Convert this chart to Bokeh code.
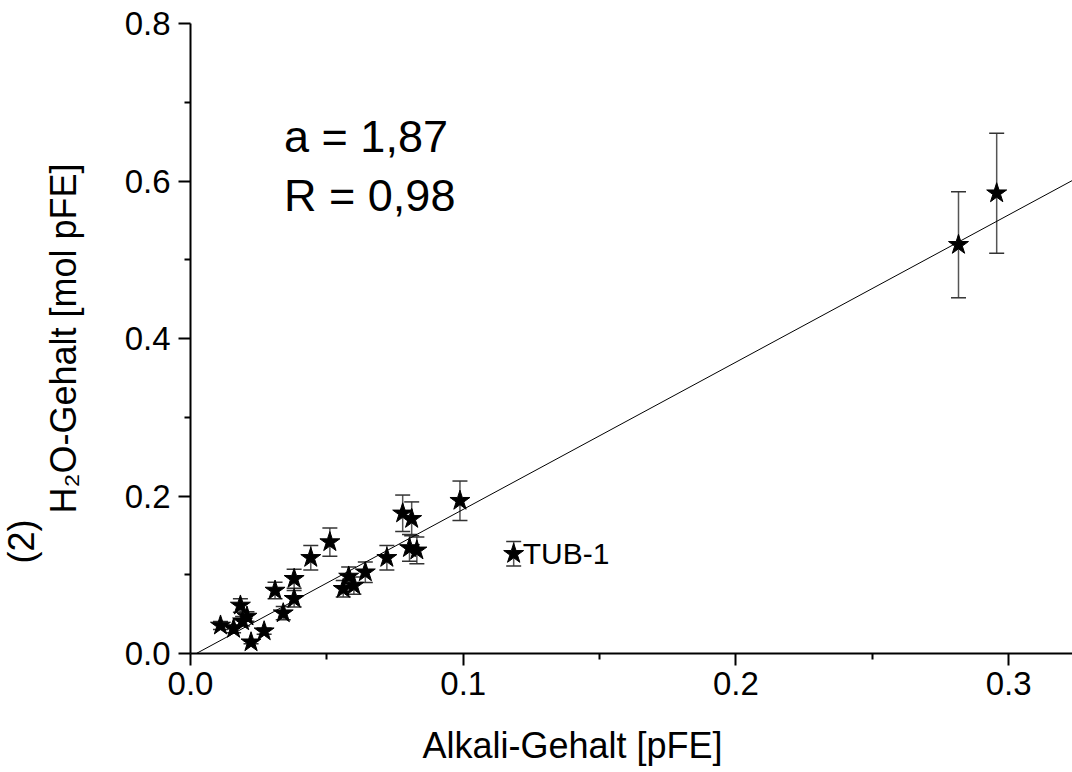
from bokeh.plotting import figure
from bokeh.models import (ColumnDataSource, Whisker, TeeHead, Label, Range1d,
                          FixedTicker, PrintfTickFormatter, Title)
from bokeh.embed import file_html
from bokeh.resources import INLINE

# ---------------- data ----------------
alkali = [0.0110, 0.0158, 0.0183, 0.0191, 0.0207, 0.0222, 0.0270, 0.0310,
          0.0340, 0.0380, 0.0380, 0.0441, 0.0511, 0.0560, 0.0580, 0.0599,
          0.0641, 0.0720, 0.0778, 0.0811, 0.0803, 0.0830, 0.0988, 0.1185,
          0.2816, 0.2956]
h2o = [0.0356, 0.0314, 0.0610, 0.0410, 0.0470, 0.0143, 0.0283, 0.0800,
       0.0512, 0.0949, 0.0695, 0.1215, 0.1415, 0.0822, 0.0978, 0.0863,
       0.1032, 0.1215, 0.1780, 0.1710, 0.1340, 0.1310, 0.1940, 0.1266,
       0.5190, 0.5845]
h2o_err = [0.005, 0.005, 0.0085, 0.006, 0.006, 0.002, 0.004, 0.0105,
           0.0085, 0.012, 0.0105, 0.0155, 0.018, 0.0105, 0.012, 0.011,
           0.013, 0.0155, 0.0232, 0.0215, 0.017, 0.017, 0.025, 0.0155,
           0.0673, 0.0762]
point_label = "TUB-1"
point_label_index = 23

fit_slope = 1.87
fit_intercept = -0.004

x_major = [0.0, 0.1, 0.2, 0.3]
x_minor = [0.05, 0.15, 0.25]
y_major = [0.0, 0.2, 0.4, 0.6, 0.8]
y_minor = [0.1, 0.3, 0.5, 0.7]
x_end = 0.3234
y_end = 0.8

annot_lines = ["a = 1,87", "R = 0,98"]
x_title = "Alkali-Gehalt [pFE]"
y_title = "H\u2082O-Gehalt [mol pFE]"
y_title_prefix = "(2)"

FONT = "Liberation Sans"

# ---------------- figure ----------------
p = figure(width=1072, height=772, x_range=Range1d(0, x_end), y_range=Range1d(0, y_end),
           output_backend="svg", toolbar_location=None,
           min_border_left=186, min_border_right=0, min_border_top=23, min_border_bottom=119)
p.outline_line_color = None
p.grid.visible = False
p.background_fill_color = "white"
p.border_fill_color = "white"

for ax in (p.xaxis[0], p.yaxis[0]):
    ax.axis_line_width = 2
    ax.axis_line_color = "black"
    ax.major_tick_line_width = 2
    ax.minor_tick_line_width = 2
    ax.major_tick_line_color = "black"
    ax.minor_tick_line_color = "black"
    ax.major_tick_in = 0
    ax.major_tick_out = 12
    ax.minor_tick_in = 0
    ax.minor_tick_out = 6
    ax.major_label_text_font = FONT
    ax.major_label_text_font_size = "33px"
    ax.major_label_text_color = "black"
    ax.formatter = PrintfTickFormatter(format="%.1f")
    ax.axis_label_text_font = FONT
    ax.axis_label_text_font_size = "36px"
    ax.axis_label_text_font_style = "normal"
    ax.axis_label_text_color = "black"

p.xaxis.ticker = FixedTicker(ticks=x_major, minor_ticks=x_minor)
p.yaxis.ticker = FixedTicker(ticks=y_major, minor_ticks=y_minor)
p.xaxis.major_label_standoff = 6
p.yaxis.major_label_standoff = 8
p.yaxis.axis_label = y_title
p.yaxis.axis_label_standoff = 38
# blank spacer label pushes the x title (a Title below) further down
p.xaxis.axis_label = " "
p.xaxis.axis_label_standoff = 0
p.xaxis.axis_label_text_font_size = "20px"

p.add_layout(Title(text=y_title_prefix, align="left", offset=90, standoff=-4,
                   text_font=FONT, text_font_size="36px", text_font_style="normal",
                   text_color="black"), "left")
p.add_layout(Title(text=x_title, align="left", offset=232, standoff=0,
                   text_font=FONT, text_font_size="36px", text_font_style="normal",
                   text_color="black"), "below")

# error bars
lo = [y - e for y, e in zip(h2o, h2o_err)]
hi = [y + e for y, e in zip(h2o, h2o_err)]
src = ColumnDataSource(dict(x=alkali, y=h2o, lo=lo, hi=hi))
w = Whisker(source=src, base="x", lower="lo", upper="hi",
            line_color="#555555", line_width=1.5,
            upper_head=TeeHead(size=15, line_color="#333333", line_width=1.5),
            lower_head=TeeHead(size=15, line_color="#333333", line_width=1.5))
w.level = "underlay"
p.add_layout(w)

# fit line
fx = [-fit_intercept / fit_slope, x_end]
fy = [fit_slope * x + fit_intercept for x in fx]
p.line(fx, fy, line_color="black", line_width=1)

# stars
p.scatter("x", "y", source=src, marker="star", size=21,
          fill_color="black", line_color="black", line_width=1)

# point label
p.add_layout(Label(x=alkali[point_label_index], y=h2o[point_label_index],
                   text=point_label, x_offset=9, y_offset=0,
                   text_font=FONT, text_font_size="30px", text_color="black",
                   text_baseline="middle", text_align="left"))

# annotation text
p.add_layout(Label(x=0.0343, y=0.6563, text=annot_lines[0], text_font=FONT,
                   text_font_size="45px", text_color="black",
                   text_baseline="middle", text_align="left"))
p.add_layout(Label(x=0.0343, y=0.5822, text=annot_lines[1], text_font=FONT,
                   text_font_size="45px", text_color="black",
                   text_baseline="middle", text_align="left"))

open("out.html", "w").write(file_html(p, INLINE))
